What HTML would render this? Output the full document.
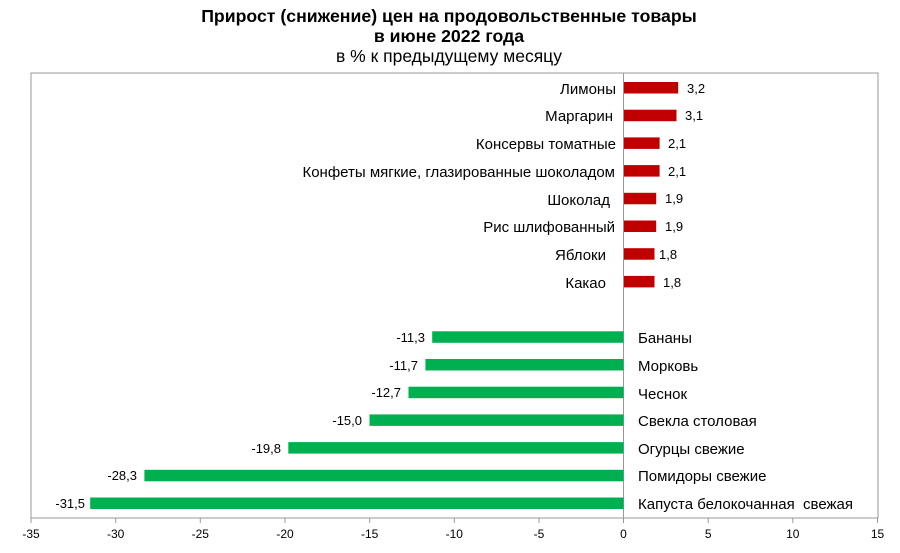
<!DOCTYPE html>
<html><head><meta charset="utf-8"><style>
body{margin:0;background:#fff;}
svg text{font-family:"Liberation Sans",Arial,sans-serif;fill:#000;}
</style></head><body>
<svg width="900" height="548" xmlns="http://www.w3.org/2000/svg">
<rect width="900" height="548" fill="#fff"/>
<text x="449" y="22" font-size="17.7" font-weight="bold" text-anchor="middle">Прирост (снижение) цен на продовольственные товары</text>
<text x="449" y="42" font-size="17.7" font-weight="bold" text-anchor="middle">в июне 2022 года</text>
<text x="449" y="62" font-size="17.5" text-anchor="middle">в % к предыдущему месяцу</text>
<rect x="31" y="73" width="847" height="445" fill="none" stroke="#999" stroke-width="1"/>
<line x1="623.5" y1="73" x2="623.5" y2="518" stroke="#999"/>
<g stroke="#999">
<line x1="31" y1="518" x2="31" y2="523"/><line x1="115.7" y1="518" x2="115.7" y2="523"/><line x1="200.3" y1="518" x2="200.3" y2="523"/><line x1="285" y1="518" x2="285" y2="523"/><line x1="369.7" y1="518" x2="369.7" y2="523"/><line x1="454.3" y1="518" x2="454.3" y2="523"/><line x1="539" y1="518" x2="539" y2="523"/><line x1="623.5" y1="518" x2="623.5" y2="523"/><line x1="708.2" y1="518" x2="708.2" y2="523"/><line x1="792.8" y1="518" x2="792.8" y2="523"/><line x1="877.5" y1="518" x2="877.5" y2="523"/>
</g>
<g font-size="12" text-anchor="middle">
<text x="31" y="538">-35</text><text x="115.7" y="538">-30</text><text x="200.3" y="538">-25</text><text x="285" y="538">-20</text><text x="369.7" y="538">-15</text><text x="454.3" y="538">-10</text><text x="539" y="538">-5</text><text x="623.5" y="538">0</text><text x="708.2" y="538">5</text><text x="792.8" y="538">10</text><text x="877.5" y="538">15</text>
</g>
<g fill="#c00000">
<rect x="624" y="82" width="54.2" height="11.5"/>
<rect x="624" y="109.7" width="52.5" height="11.5"/>
<rect x="624" y="137.4" width="35.6" height="11.5"/>
<rect x="624" y="165.1" width="35.6" height="11.5"/>
<rect x="624" y="192.8" width="32.2" height="11.5"/>
<rect x="624" y="220.5" width="32.2" height="11.5"/>
<rect x="624" y="248.2" width="30.5" height="11.5"/>
<rect x="624" y="275.9" width="30.5" height="11.5"/>
</g>
<g fill="#00b050">
<rect x="432.2" y="331.3" width="191.3" height="11.5"/>
<rect x="425.4" y="359" width="198.1" height="11.5"/>
<rect x="408.5" y="386.7" width="215" height="11.5"/>
<rect x="369.5" y="414.4" width="254" height="11.5"/>
<rect x="288.3" y="442.1" width="335.2" height="11.5"/>
<rect x="144.4" y="469.8" width="479.1" height="11.5"/>
<rect x="90.2" y="497.5" width="533.3" height="11.5"/>
</g>
<g font-size="15" text-anchor="end">
<text x="616" y="94">Лимоны</text>
<text x="613" y="121">Маргарин</text>
<text x="616" y="149">Консервы томатные</text>
<text x="615" y="177">Конфеты мягкие, глазированные шоколадом</text>
<text x="610" y="205">Шоколад</text>
<text x="615" y="232">Рис шлифованный</text>
<text x="606" y="260">Яблоки</text>
<text x="606" y="288">Какао</text>
</g>
<g font-size="13">
<text x="687" y="93">3,2</text><text x="685" y="120">3,1</text><text x="668" y="148">2,1</text><text x="668" y="176">2,1</text><text x="665" y="203">1,9</text><text x="665" y="231">1,9</text><text x="659" y="259">1,8</text><text x="663" y="287">1,8</text>
</g>
<g font-size="15">
<text x="638" y="343">Бананы</text>
<text x="638" y="371">Морковь</text>
<text x="638" y="399">Чеснок</text>
<text x="638" y="426">Свекла столовая</text>
<text x="638" y="454">Огурцы свежие</text>
<text x="638" y="481">Помидоры свежие</text>
<text x="638" y="509" xml:space="preserve">Капуста белокочанная  свежая</text>
</g>
<g font-size="13" text-anchor="end">
<text x="425" y="342">-11,3</text><text x="418" y="370">-11,7</text><text x="401" y="397">-12,7</text><text x="362" y="425">-15,0</text><text x="281" y="453">-19,8</text><text x="137" y="480">-28,3</text><text x="85" y="508">-31,5</text>
</g>
</svg>
</body></html>
